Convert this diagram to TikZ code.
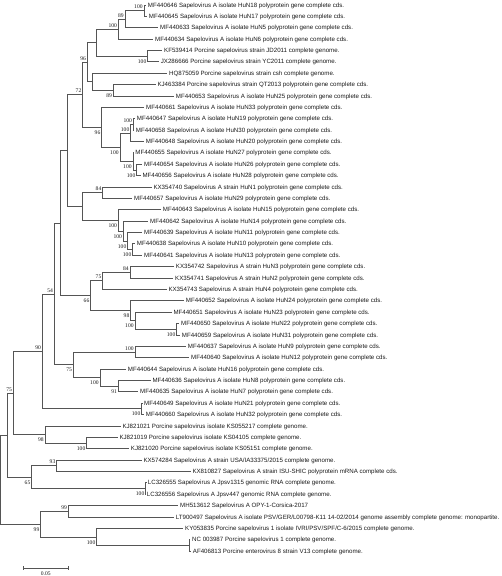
\documentclass[tikz,border=0pt]{standalone}
\usepackage{fontspec}
\newfontfamily\leaffont{Liberation Sans}
\newfontfamily\bsfont{Liberation Serif}
\definecolor{linegray}{RGB}{85,85,85}
\definecolor{txtgray}{RGB}{25,25,25}
\tikzset{
  br/.style={draw=linegray, line width=0.6pt},
  leaf/.style={anchor=west, inner xsep=1.6pt, inner ysep=0pt, text height=5.2pt, text depth=0.8pt,
    font=\leaffont\fontsize{6.15}{7}\selectfont, text=txtgray},
  bsa/.style={anchor=base east, inner sep=0pt, font=\bsfont\fontsize{5.6}{6}\selectfont, text=txtgray, xshift=-1.2pt, yshift=1.8pt},
  bsb/.style={anchor=base east, inner sep=0pt, font=\bsfont\fontsize{5.6}{6}\selectfont, text=txtgray, xshift=-1.2pt, yshift=-7.2pt},
}
\begin{document}
\begin{tikzpicture}[x=1pt,y=-1pt]
\useasboundingbox (0,0) rectangle (502,576);
% internal nodes
\coordinate (root) at (0.8,479.50);
\coordinate (AN) at (7.3,434.98);
\coordinate (AK) at (13.3,392.88);
\coordinate (AI) at (42.3,351.35);
\coordinate (AD) at (54.3,293.91);
\coordinate (S) at (60,223.12);
\coordinate (I) at (67.7,150.52);
\coordinate (G) at (82.7,94.60);
\coordinate (E) at (87.3,62.06);
\coordinate (C) at (96,42.50);
\coordinate (B) at (118.3,28.98);
\coordinate (A) at (125,19.03);
\coordinate (N12) at (144,10.49);
\coordinate (N56) at (147.7,56.01);
\coordinate (F) at (92.3,81.61);
\coordinate (N89) at (113.3,90.15);
\coordinate (H) at (101.7,127.14);
\coordinate (J) at (120,147.05);
\coordinate (M) at (130.7,132.83);
\coordinate (L) at (133.3,124.29);
\coordinate (N) at (133,161.28);
\coordinate (P) at (136.7,169.81);
\coordinate (R) at (82.7,206.44);
\coordinate (T) at (102.7,192.57);
\coordinate (U) at (118.3,220.31);
\coordinate (V) at (123.3,230.98);
\coordinate (W) at (127.7,240.94);
\coordinate (X) at (132.7,249.47);
\coordinate (Y) at (90.7,295.71);
\coordinate (Z) at (102.7,280.77);
\coordinate (N2425) at (130,272.23);
\coordinate (AA) at (130.7,310.64);
\coordinate (AB) at (135,320.60);
\coordinate (AC) at (176.7,329.13);
\coordinate (AE) at (73.3,364.70);
\coordinate (AF) at (135,351.89);
\coordinate (AG) at (100,377.50);
\coordinate (AH) at (118.3,386.03);
\coordinate (AJ) at (141.7,408.79);
\coordinate (AL) at (45,434.40);
\coordinate (AM) at (86.7,442.93);
\coordinate (AQ) at (31.7,477.07);
\coordinate (AO) at (56.7,465.69);
\coordinate (AP) at (145.7,488.45);
\coordinate (AR) at (40.7,524.02);
\coordinate (AS) at (68.3,511.21);
\coordinate (AT) at (96.7,536.82);
\coordinate (AU) at (189.3,545.35);
% leaf ends
\coordinate (l1) at (146.1,4.80);
\coordinate (l2) at (147.1,16.18);
\coordinate (l3) at (158.4,27.56);
\coordinate (l4) at (153.4,38.94);
\coordinate (l5) at (162.4,50.32);
\coordinate (l6) at (159.1,61.70);
\coordinate (l7) at (167.4,73.08);
\coordinate (l8) at (155.7,84.46);
\coordinate (l9) at (174.1,95.84);
\coordinate (l10) at (144.4,107.22);
\coordinate (l11) at (135.1,118.60);
\coordinate (l12) at (134.1,129.98);
\coordinate (l13) at (144.1,141.36);
\coordinate (l14) at (133.6,152.74);
\coordinate (l15) at (142.4,164.12);
\coordinate (l16) at (140.7,175.50);
\coordinate (l17) at (151.7,186.88);
\coordinate (l18) at (132.4,198.26);
\coordinate (l19) at (161.1,209.64);
\coordinate (l20) at (148.4,221.02);
\coordinate (l21) at (142.4,232.40);
\coordinate (l22) at (135.1,243.78);
\coordinate (l23) at (142.4,255.16);
\coordinate (l24) at (174.1,266.54);
\coordinate (l25) at (173.4,277.92);
\coordinate (l26) at (166.7,289.30);
\coordinate (l27) at (184.1,300.68);
\coordinate (l28) at (171.7,312.06);
\coordinate (l29) at (179.4,323.44);
\coordinate (l30) at (180.1,334.82);
\coordinate (l31) at (186.1,346.20);
\coordinate (l32) at (189.4,357.58);
\coordinate (l33) at (126.1,368.96);
\coordinate (l34) at (150.7,380.34);
\coordinate (l35) at (138.4,391.72);
\coordinate (l36) at (142.4,403.10);
\coordinate (l37) at (144.1,414.48);
\coordinate (l38) at (120.7,425.86);
\coordinate (l39) at (117.7,437.24);
\coordinate (l40) at (129.1,448.62);
\coordinate (l41) at (141.7,460.00);
\coordinate (l42) at (190.7,471.38);
\coordinate (l43) at (146.1,482.76);
\coordinate (l44) at (145.1,494.14);
\coordinate (l45) at (178.4,505.52);
\coordinate (l46) at (174.1,516.90);
\coordinate (l47) at (183.4,528.28);
\coordinate (l48) at (190.4,539.66);
\coordinate (l49) at (191.1,551.04);
% internal branches
\draw[br] (root) |- (AN);
\draw[br] (root) |- (AR);
\draw[br] (AN) |- (AK);
\draw[br] (AN) |- (AQ);
\draw[br] (AK) |- (AI);
\draw[br] (AK) |- (AL);
\draw[br] (AI) |- (AD);
\draw[br] (AI) |- (AJ);
\draw[br] (AD) |- (S);
\draw[br] (AD) |- (AE);
\draw[br] (S) |- (I);
\draw[br] (S) |- (Y);
\draw[br] (I) |- (G);
\draw[br] (I) |- (R);
\draw[br] (G) |- (E);
\draw[br] (G) |- (H);
\draw[br] (E) |- (C);
\draw[br] (E) |- (F);
\draw[br] (C) |- (B);
\draw[br] (C) |- (N56);
\draw[br] (B) |- (A);
\draw[br] (A) |- (N12);
\draw[br] (F) |- (N89);
\draw[br] (H) |- (J);
\draw[br] (J) |- (M);
\draw[br] (J) |- (N);
\draw[br] (M) |- (L);
\draw[br] (N) |- (P);
\draw[br] (R) |- (T);
\draw[br] (R) |- (U);
\draw[br] (U) |- (V);
\draw[br] (V) |- (W);
\draw[br] (W) |- (X);
\draw[br] (Y) |- (Z);
\draw[br] (Y) |- (AA);
\draw[br] (Z) |- (N2425);
\draw[br] (AA) |- (AB);
\draw[br] (AB) |- (AC);
\draw[br] (AE) |- (AF);
\draw[br] (AE) |- (AG);
\draw[br] (AG) |- (AH);
\draw[br] (AL) |- (AM);
\draw[br] (AQ) |- (AO);
\draw[br] (AQ) |- (AP);
\draw[br] (AR) |- (AS);
\draw[br] (AR) |- (AT);
\draw[br] (AT) |- (AU);
% leaf branches
\draw[br] (N12) |- (l1);
\draw[br] (N12) |- (l2);
\draw[br] (A) |- (l3);
\draw[br] (B) |- (l4);
\draw[br] (N56) |- (l5);
\draw[br] (N56) |- (l6);
\draw[br] (F) |- (l7);
\draw[br] (N89) |- (l8);
\draw[br] (N89) |- (l9);
\draw[br] (H) |- (l10);
\draw[br] (L) |- (l11);
\draw[br] (L) |- (l12);
\draw[br] (M) |- (l13);
\draw[br] (N) |- (l14);
\draw[br] (P) |- (l15);
\draw[br] (P) |- (l16);
\draw[br] (T) |- (l17);
\draw[br] (T) |- (l18);
\draw[br] (U) |- (l19);
\draw[br] (V) |- (l20);
\draw[br] (W) |- (l21);
\draw[br] (X) |- (l22);
\draw[br] (X) |- (l23);
\draw[br] (N2425) |- (l24);
\draw[br] (N2425) |- (l25);
\draw[br] (Z) |- (l26);
\draw[br] (AA) |- (l27);
\draw[br] (AB) |- (l28);
\draw[br] (AC) |- (l29);
\draw[br] (AC) |- (l30);
\draw[br] (AF) |- (l31);
\draw[br] (AF) |- (l32);
\draw[br] (AG) |- (l33);
\draw[br] (AH) |- (l34);
\draw[br] (AH) |- (l35);
\draw[br] (AJ) |- (l36);
\draw[br] (AJ) |- (l37);
\draw[br] (AL) |- (l38);
\draw[br] (AM) |- (l39);
\draw[br] (AM) |- (l40);
\draw[br] (AO) |- (l41);
\draw[br] (AO) |- (l42);
\draw[br] (AP) |- (l43);
\draw[br] (AP) |- (l44);
\draw[br] (AS) |- (l45);
\draw[br] (AS) |- (l46);
\draw[br] (AT) |- (l47);
\draw[br] (AU) |- (l48);
\draw[br] (AU) |- (l49);
% leaf labels
\node[leaf] (t1) at (l1) {MF440646 Sapelovirus A isolate HuN18 polyprotein gene complete cds.};
\node[leaf] (t2) at (l2) {MF440645 Sapelovirus A isolate HuN17 polyprotein gene complete cds.};
\node[leaf] (t3) at (l3) {MF440633 Sapelovirus A isolate HuN5 polyprotein gene complete cds.};
\node[leaf] (t4) at (l4) {MF440634 Sapelovirus A isolate HuN6 polyprotein gene complete cds.};
\node[leaf] (t5) at (l5) {KF539414 Porcine sapelovirus strain JD2011 complete genome.};
\node[leaf] (t6) at (l6) {JX286666 Porcine sapelovirus strain YC2011 complete genome.};
\node[leaf] (t7) at (l7) {HQ875059 Porcine sapelovirus strain csh complete genome.};
\node[leaf] (t8) at (l8) {KJ463384 Porcine sapelovirus strain QT2013 polyprotein gene complete cds.};
\node[leaf] (t9) at (l9) {MF440653 Sapelovirus A isolate HuN25 polyprotein gene complete cds.};
\node[leaf] (t10) at (l10) {MF440661 Sapelovirus A isolate HuN33 polyprotein gene complete cds.};
\node[leaf] (t11) at (l11) {MF440647 Sapelovirus A isolate HuN19 polyprotein gene complete cds.};
\node[leaf] (t12) at (l12) {MF440658 Sapelovirus A isolate HuN30 polyprotein gene complete cds.};
\node[leaf] (t13) at (l13) {MF440648 Sapelovirus A isolate HuN20 polyprotein gene complete cds.};
\node[leaf] (t14) at (l14) {MF440655 Sapelovirus A isolate HuN27 polyprotein gene complete cds.};
\node[leaf] (t15) at (l15) {MF440654 Sapelovirus A isolate HuN26 polyprotein gene complete cds.};
\node[leaf] (t16) at (l16) {MF440656 Sapelovirus A isolate HuN28 polyprotein gene complete cds.};
\node[leaf] (t17) at (l17) {KX354740 Sapelovirus A strain HuN1 polyprotein gene complete cds.};
\node[leaf] (t18) at (l18) {MF440657 Sapelovirus A isolate HuN29 polyprotein gene complete cds.};
\node[leaf] (t19) at (l19) {MF440643 Sapelovirus A isolate HuN15 polyprotein gene complete cds.};
\node[leaf] (t20) at (l20) {MF440642 Sapelovirus A isolate HuN14 polyprotein gene complete cds.};
\node[leaf] (t21) at (l21) {MF440639 Sapelovirus A isolate HuN11 polyprotein gene complete cds.};
\node[leaf] (t22) at (l22) {MF440638 Sapelovirus A isolate HuN10 polyprotein gene complete cds.};
\node[leaf] (t23) at (l23) {MF440641 Sapelovirus A isolate HuN13 polyprotein gene complete cds.};
\node[leaf] (t24) at (l24) {KX354742 Sapelovirus A strain HuN3 polyprotein gene complete cds.};
\node[leaf] (t25) at (l25) {KX354741 Sapelovirus A strain HuN2 polyprotein gene complete cds.};
\node[leaf] (t26) at (l26) {KX354743 Sapelovirus A strain HuN4 polyprotein gene complete cds.};
\node[leaf] (t27) at (l27) {MF440652 Sapelovirus A isolate HuN24 polyprotein gene complete cds.};
\node[leaf] (t28) at (l28) {MF440651 Sapelovirus A isolate HuN23 polyprotein gene complete cds.};
\node[leaf] (t29) at (l29) {MF440650 Sapelovirus A isolate HuN22 polyprotein gene complete cds.};
\node[leaf] (t30) at (l30) {MF440659 Sapelovirus A isolate HuN31 polyprotein gene complete cds.};
\node[leaf] (t31) at (l31) {MF440637 Sapelovirus A isolate HuN9 polyprotein gene complete cds.};
\node[leaf] (t32) at (l32) {MF440640 Sapelovirus A isolate HuN12 polyprotein gene complete cds.};
\node[leaf] (t33) at (l33) {MF440644 Sapelovirus A isolate HuN16 polyprotein gene complete cds.};
\node[leaf] (t34) at (l34) {MF440636 Sapelovirus A isolate HuN8 polyprotein gene complete cds.};
\node[leaf] (t35) at (l35) {MF440635 Sapelovirus A isolate HuN7 polyprotein gene complete cds.};
\node[leaf] (t36) at (l36) {MF440649 Sapelovirus A isolate HuN21 polyprotein gene complete cds.};
\node[leaf] (t37) at (l37) {MF440660 Sapelovirus A isolate HuN32 polyprotein gene complete cds.};
\node[leaf] (t38) at (l38) {KJ821021 Porcine sapelovirus isolate KS055217 complete genome.};
\node[leaf] (t39) at (l39) {KJ821019 Porcine sapelovirus isolate KS04105 complete genome.};
\node[leaf] (t40) at (l40) {KJ821020 Porcine sapelovirus isolate KS05151 complete genome.};
\node[leaf] (t41) at (l41) {KX574284 Sapelovirus A strain USA/IA33375/2015 complete genome.};
\node[leaf] (t42) at (l42) {KX810827 Sapelovirus A strain ISU-SHIC polyprotein mRNA complete cds.};
\node[leaf] (t43) at (l43) {LC326555 Sapelovirus A Jpsv1315 genomic RNA complete genome.};
\node[leaf] (t44) at (l44) {LC326556 Sapelovirus A Jpsv447 genomic RNA complete genome.};
\node[leaf] (t45) at (l45) {MH513612 Sapelovirus A OPY-1-Corsica-2017};
\node[leaf] (t46) at (l46) {LT900497 Sapelovirus A isolate PSV/GER/L00798-K11 14-02/2014 genome assembly complete genome: monopartite.};
\node[leaf] (t47) at (l47) {KY053835 Porcine sapelovirus 1 isolate IVRI/PSV/SPF/C-6/2015 complete genome.};
\node[leaf] (t48) at (l48) {NC 003987 Porcine sapelovirus 1 complete genome.};
\node[leaf] (t49) at (l49) {AF406813 Porcine enterovirus 8 strain V13 complete genome.};
% bootstrap values
\node[bsa] (bN12) at (N12) {100};
\node[bsa] (bA) at (A) {89};
\node[bsa] (bB) at (B) {100};
\node[bsb] (bN56) at (N56) {100};
\node[bsa] (bE) at (E) {96};
\node[bsb] (bN89) at (N89) {89};
\node[bsa] (bG) at (G) {72};
\node[bsa] (bL) at (L) {100};
\node[bsa] (bM) at (M) {100};
\node[bsb] (bH) at (H) {96};
\node[bsb] (bJ) at (J) {100};
\node[bsb] (bN) at (N) {100};
\node[bsb] (bP) at (P) {100};
\node[bsa] (bT) at (T) {84};
\node[bsb] (bU) at (U) {100};
\node[bsb] (bV) at (V) {100};
\node[bsb] (bW) at (W) {100};
\node[bsb] (bX) at (X) {100};
\node[bsa] (bN2425) at (N2425) {84};
\node[bsa] (bZ) at (Z) {75};
\node[bsb] (bAA) at (AA) {98};
\node[bsb] (bAB) at (AB) {100};
\node[bsb] (bAC) at (AC) {100};
\node[bsb] (bY) at (Y) {66};
\node[bsa] (bAD) at (AD) {54};
\node[bsa] (bAF) at (AF) {100};
\node[bsb] (bAH) at (AH) {91};
\node[bsb] (bAG) at (AG) {100};
\node[bsb] (bAE) at (AE) {75};
\node[bsb] (bAJ) at (AJ) {100};
\node[bsa] (bAI) at (AI) {90};
\node[bsb] (bAM) at (AM) {100};
\node[bsb] (bAL) at (AL) {98};
\node[bsa] (bAK) at (AK) {75};
\node[bsa] (bAO) at (AO) {93};
\node[bsb] (bAP) at (AP) {100};
\node[bsb] (bAQ) at (AQ) {65};
\node[bsa] (bAS) at (AS) {99};
\node[bsb] (bAT) at (AT) {100};
\node[bsb] (bAR) at (AR) {99};
% scale bar
\coordinate (sb1) at (23.3,568);
\coordinate (sb2) at (68.3,568);
\draw[br] (sb1) -- (sb2);
\draw[br] ([yshift=1.6pt]sb1) -- ([yshift=-1.6pt]sb1);
\draw[br] ([yshift=1.6pt]sb2) -- ([yshift=-1.6pt]sb2);
\node[anchor=base, inner sep=0pt, font=\bsfont\fontsize{5.6}{6}\selectfont, text=txtgray] (sbl) at (45.8,575) {0.05};
\end{tikzpicture}
\end{document}
